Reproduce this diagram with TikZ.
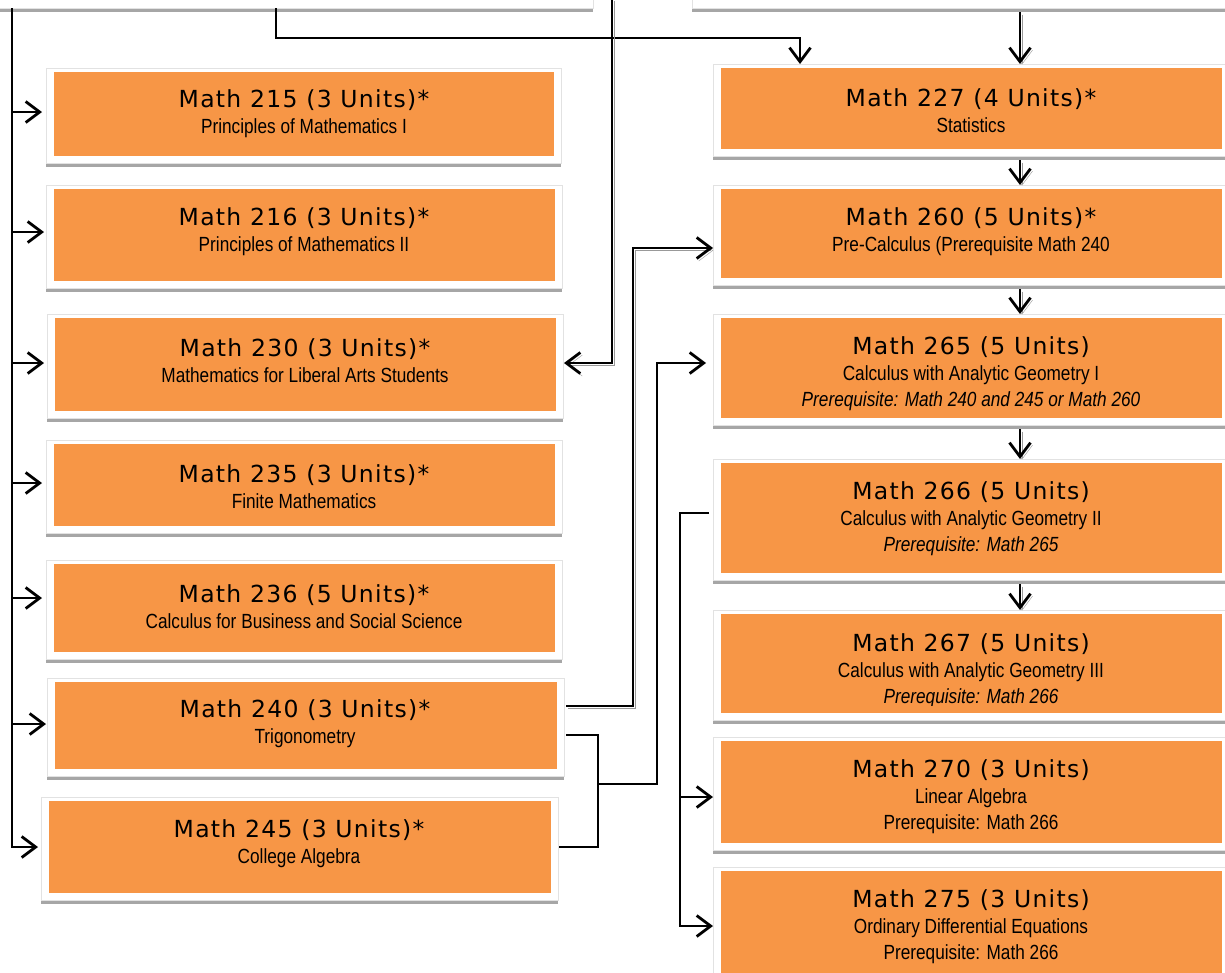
\documentclass[tikz,border=0pt]{standalone}
\usepackage{fontspec}
\newfontfamily\titlef[LetterSpace=5.5]{DejaVu Sans}
\newfontfamily\subf[FakeStretch=0.84]{Liberation Sans}
\usetikzlibrary{arrows.meta,calc}
\definecolor{orng}{HTML}{F79646}
\definecolor{shd}{HTML}{A6A6A6}
\definecolor{edgegray}{HTML}{E2E2E2}
\newcommand\crsTitle[1]{{\titlef\fontsize{23.5}{26}\selectfont #1}\\}
% name, x1, y1, x2, y2 (outer white box, pixel coordinates)
\newcommand\coursebox[5]{%
  \fill[shd] (#2,#5) rectangle (#4,#5+4);
  \node[obox, minimum width=#4-#2, minimum height=#5-#3] (#1) at ({(#2+#4)/2},{(#3+#5)/2}) {};
  \fill[orng] ([shift={(8,4)}]#1.north west) rectangle ([shift={(-7,-7)}]#1.south east);
}
\begin{document}
\begin{tikzpicture}[x=1pt,y=-1pt,
  obox/.style={rectangle, draw=edgegray, fill=white, line width=0.8pt, inner sep=0pt, outer sep=0pt},
  txt/.style={align=center, inner sep=0pt, text=black, font=\subf\fontsize{20.5}{26}\selectfont},
  conn/.style={line width=2.8pt, draw=black},
  arr/.style={conn, -{Straight Barb[length=14pt,width=21pt]}},
  shad/.style={preaction={draw=black!40, transform canvas={shift={(2pt,-2.5pt)}}}}]
\clip (0,0) rectangle (1225,972);
\fill[white] (0,0) rectangle (1225,972);

% partial boxes at the top
\fill[shd] (-5,8) rectangle (593,12);
\node[obox, minimum width=598, minimum height=48] (topL) at (-5+299,8-24) {};
\fill[shd] (692,8) rectangle (1232,12);
\node[obox, minimum width=540, minimum height=48] (topR) at (692+270,8-24) {};

% left column
\coursebox{b215}{46}{68}{561}{163}
\coursebox{b216}{46}{185}{562}{288}
\coursebox{b230}{47}{314}{563}{418}
\coursebox{b235}{46}{440}{562}{533}
\coursebox{b236}{46}{560}{562}{659}
\coursebox{b240}{47}{678}{564}{776}
\coursebox{b245}{41}{797}{558}{900}
% right column
\coursebox{b227}{713}{64}{1229}{156}
\coursebox{b260}{713}{185}{1229}{285}
\coursebox{b265}{713}{314}{1229}{425}
\coursebox{b266}{713}{459}{1229}{580}
\coursebox{b267}{713}{610}{1229}{720}
\coursebox{b270}{713}{737}{1229}{850}
\coursebox{b275}{713}{867}{1229}{992}

% texts
\node[txt] (t215) at (304,114) {\crsTitle{Math 215 (3 Units)*}Principles of Mathematics I};
\node[txt] (t216) at (304,232) {\crsTitle{Math 216 (3 Units)*}Principles of Mathematics II};
\node[txt] (t230) at (305,361) {\crsTitle{Math 230 (3 Units)*}Mathematics for Liberal Arts Students};
\node[txt] (t235) at (304,486.5) {\crsTitle{Math 235 (3 Units)*}Finite Mathematics};
\node[txt] (t236) at (304,607) {\crsTitle{Math 236 (5 Units)*}Calculus for Business and Social Science};
\node[txt] (t240) at (305,724) {\crsTitle{Math 240 (3 Units)*}Trigonometry};
\node[txt] (t245) at (299,844) {\crsTitle{Math 245 (3 Units)*}College Algebra};
\node[txt] (t227) at (971,110.5) {\crsTitle{Math 227 (4 Units)*}Statistics};
\node[txt] (t260) at (971,232) {\crsTitle{Math 260 (5 Units)*}Pre-Calculus (Prerequisite Math 240};
\node[txt] (t265) at (971,374) {\crsTitle{Math 265 (5 Units)}Calculus with Analytic Geometry I\\ \itshape Prerequisite: Math 240 and 245 or Math 260};
\node[txt] (t266) at (971,519) {\crsTitle{Math 266 (5 Units)}Calculus with Analytic Geometry II\\ \itshape Prerequisite: Math 265};
\begin{scope}
\clip (713,600) rectangle (1229,705);
\node[txt] (t267) at (971,671) {\crsTitle{Math 267 (5 Units)}Calculus with Analytic Geometry III\\ \itshape Prerequisite: Math 266};
\end{scope}
\node[txt] (t270) at (971,796.5) {\crsTitle{Math 270 (3 Units)}Linear Algebra\\ Prerequisite: Math 266};
\node[txt] (t275) at (971,927) {\crsTitle{Math 275 (3 Units)}Ordinary Differential Equations\\ Prerequisite: Math 266};

% helper coordinates
\coordinate (sp) at (12,0);
\coordinate (c276) at (276,0);
\coordinate (c800) at (800,0);
\coordinate (yy38) at (0,38);
\coordinate (s612) at (612,-2);
\coordinate (rc) at (1020,0);
\coordinate (j633) at (633,0);
\coordinate (j598) at (598,0);
\coordinate (j657) at (657,0);
\coordinate (j680) at (680,0);
\coordinate (jy) at (0,784);
\coordinate (a215) at ([shift={(-4,-3.5)}]b215.west);
\coordinate (a216) at ([shift={(-2,-4.5)}]b216.west);
\coordinate (a230) at ([shift={(-3,-3)}]b230.west);
\coordinate (a235) at ([shift={(-4,-3.5)}]b235.west);
\coordinate (a236) at ([shift={(-4,-11.5)}]b236.west);
\coordinate (a240) at ([shift={(-1,-3)}]b240.west);
\coordinate (a245) at ([shift={(-3,-1.5)}]b245.west);
\coordinate (a230r) at ([shift={(1,-3)}]b230.east);
\coordinate (a227l) at (b227.north -| c800);
\coordinate (o240a) at ([shift={(2,-21)}]b240.east);
\coordinate (o240b) at ([shift={(2,8)}]b240.east);
\coordinate (o245) at ([shift={(1,-1.5)}]b245.east);
\coordinate (a260) at ([shift={(0,13)}]b260.west);
\coordinate (a265) at ([shift={(-7,-6.5)}]b265.west);
\coordinate (s266) at ([shift={(-4,-6.5)}]b266.west);
\coordinate (a270) at ([shift={(0,3.5)}]b270.west);
\coordinate (a275) at ([shift={(0,-3.5)}]b275.west);

% left spine
\draw[arr] (topL.south -| sp) |- (a245);
\foreach \t in {a215,a216,a230,a235,a236,a240}
  \draw[arr] (sp |- \t) -- (\t);
% to statistics
\draw[arr] (topL.south -| c276) |- (a227l |- yy38) -- (a227l);
% to liberal arts
\draw[arr,shad] (s612) |- (a230r);
% right column chain
\draw[arr,shad,shorten <=4pt] (topR.south -| rc) -- (b227.north -| rc);
\draw[arr,shad,shorten <=4pt] (b227.south -| rc) -- (b260.north -| rc);
\draw[arr,shad,shorten <=4pt] (b260.south -| rc) -- (b265.north -| rc);
\draw[arr,shad,shorten <=4pt] (b265.south -| rc) -- (b266.north -| rc);
\draw[arr,shad,shorten <=4pt] (b266.south -| rc) -- (b267.north -| rc);
% trig to pre-calculus
\draw[arr,shad] (o240a) -| (j633 |- a260) -- (a260);
% trig and algebra to calculus I
\draw[conn] (o240b) -| (j598 |- o245) -- (o245);
\draw[arr] (j598 |- jy) -| (j657 |- a265) -- (a265);
% calculus II to linear algebra and ODE
\draw[arr] (s266) -| (j680 |- a275) -- (a275);
\draw[arr] (j680 |- a270) -- (a270);
\end{tikzpicture}
\end{document}
